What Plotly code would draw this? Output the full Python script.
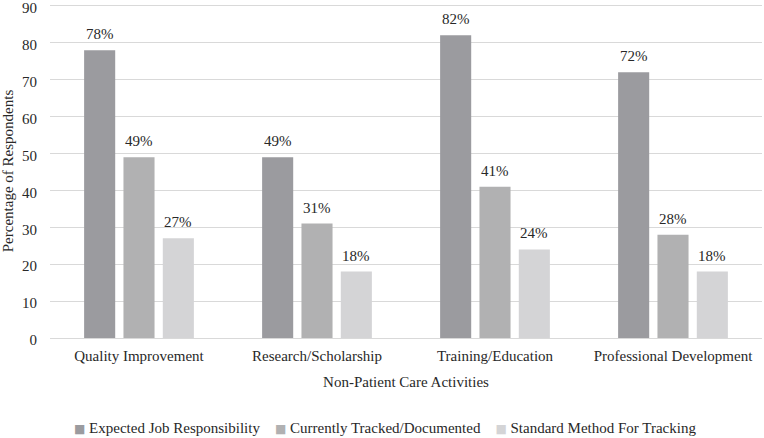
import plotly.graph_objects as go

categories = ["Quality Improvement", "Research/Scholarship", "Training/Education", "Professional Development"]
series_names = ["Expected Job Responsibility", "Currently Tracked/Documented", "Standard Method For Tracking"]
expected = [78, 49, 82, 72]
tracked = [49, 31, 41, 28]
standard = [27, 18, 24, 18]
y_ticks = [0, 10, 20, 30, 40, 50, 60, 70, 80, 90]

colors = ["#9b9b9f", "#b1b1b2", "#d4d4d6"]
FONT = "Liberation Serif, Times New Roman, serif"
TXT = "#282828"
W, H = 764, 438
ml, mr, mt, mb = 50, 2, 4, 100
bargap = 0.337
bargroupgap = 0.21

fig = go.Figure()
all_vals = [expected, tracked, standard]
for name, vals, c in zip(series_names, all_vals, colors):
    fig.add_trace(go.Bar(x=categories, y=vals, name=name, showlegend=False,
                         marker=dict(color=c, line=dict(width=0))))

# data labels above bars
plot_w = W - ml - mr
plot_h = H - mt - mb
cat_w = plot_w / len(categories)
pitch = cat_w * (1 - bargap) / 3
for i, vals in enumerate(all_vals):
    for cat, v in zip(categories, vals):
        fig.add_annotation(x=cat, y=v, text=f"{v}%", showarrow=False,
                           xshift=(i - 1) * pitch, yshift=6, yanchor="bottom",
                           font=dict(family=FONT, size=15, color=TXT))

# legend drawn as a single centered line of text
sep = "\u00a0" * 4
parts = []
for name, c in zip(series_names, colors):
    parts.append(f"<span style='color:{c};font-size:12px;font-family:DejaVu Sans'>\u25a0</span>\u00a0{name}")
legend_text = sep.join(parts)
legend_center_px = 385
legend_y_px = 428
fig.add_annotation(xref="paper", yref="paper",
                   x=(legend_center_px - ml) / plot_w,
                   y=(H - mb - legend_y_px) / plot_h,
                   xanchor="center", yanchor="middle", showarrow=False,
                   text=legend_text, font=dict(family=FONT, size=15, color=TXT))

fig.update_layout(
    width=W, height=H,
    margin=dict(l=ml, r=mr, t=mt, b=mb, autoexpand=False),
    paper_bgcolor="white", plot_bgcolor="white",
    barmode="group", bargap=bargap, bargroupgap=bargroupgap,
    font=dict(family=FONT, size=15, color=TXT),
    showlegend=False,
)
fig.update_xaxes(
    title=dict(text="Non-Patient Care Activities", font=dict(family=FONT, size=15, color=TXT), standoff=13),
    tickfont=dict(family=FONT, size=15, color=TXT),
    showline=True, linecolor="#d9d9d9", linewidth=1, ticks="", showgrid=False,
    automargin=False, ticklabelstandoff=4, ticklabeloverflow="allow",
)
fig.update_yaxes(
    title=dict(text="Percentage of Respondents", font=dict(family=FONT, size=15, color=TXT), standoff=4),
    range=[0, 90.5], tickvals=y_ticks, tickfont=dict(family=FONT, size=15, color=TXT),
    showgrid=True, gridcolor="#d9d9d9", gridwidth=1, zeroline=False, ticks="",
    ticklabelstandoff=12, ticklabelshift=2, automargin=False, ticklabeloverflow="allow",
)

fig.write_html("out.html", config={"displayModeBar": False},
               post_script="document.body.style.margin='0';document.body.style.overflow='hidden';")
